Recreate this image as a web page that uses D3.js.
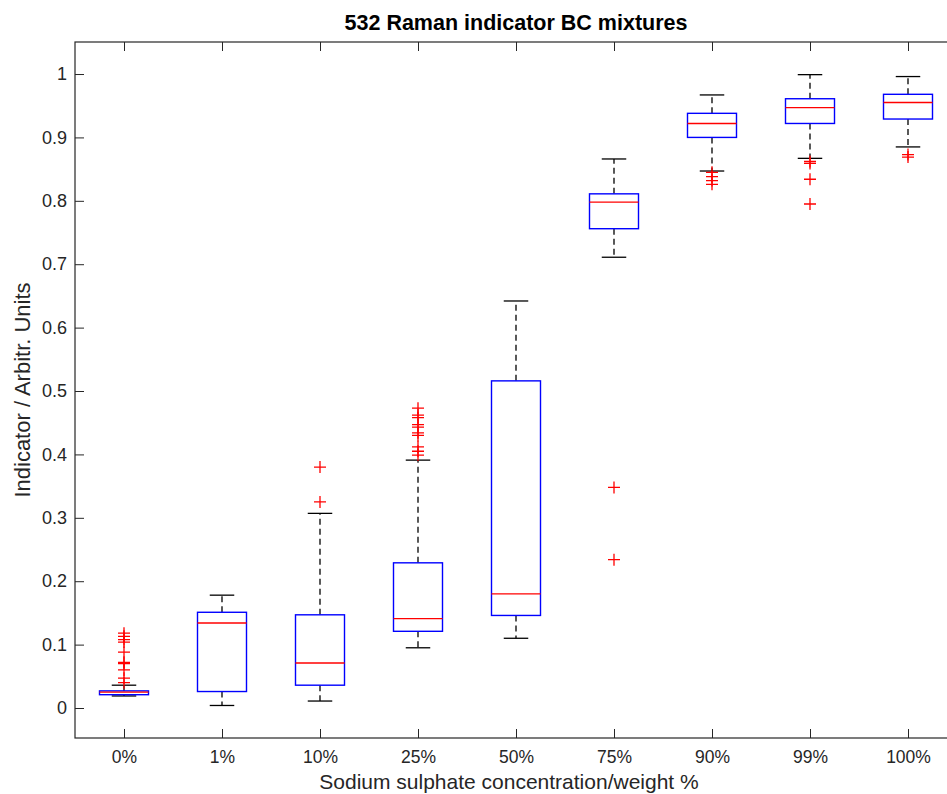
<!DOCTYPE html>
<html>
<head>
<meta charset="utf-8">
<script src="https://cdn.jsdelivr.net/npm/d3@7"></script>
<style>
  body { margin: 0; background: #fff; }
  svg { display: block; }
</style>
</head>
<body>
<div id="chart"></div>
<script>
// Box-plot summary per mixture (indicator, arbitrary units)
const categories   = ["0%", "1%", "10%", "25%", "50%", "75%", "90%", "99%", "100%"];
const whiskerLow   = [0.019, 0.004, 0.011, 0.095, 0.110, 0.711, 0.847, 0.867, 0.885];
const quartile1    = [0.021, 0.026, 0.036, 0.121, 0.146, 0.756, 0.900, 0.922, 0.929];
const medians      = [0.025, 0.134, 0.071, 0.141, 0.180, 0.798, 0.922, 0.947, 0.955];
const quartile3    = [0.027, 0.151, 0.147, 0.229, 0.516, 0.811, 0.938, 0.961, 0.968];
const whiskerHigh  = [0.036, 0.178, 0.307, 0.391, 0.642, 0.866, 0.967, 0.999, 0.996];
const outliers = [
  [0.118, 0.113, 0.108, 0.104, 0.088, 0.072, 0.070, 0.060, 0.047, 0.040],
  [],
  [0.380, 0.325],
  [0.473, 0.462, 0.458, 0.447, 0.443, 0.434, 0.430, 0.412, 0.405, 0.399],
  [],
  [0.348, 0.234],
  [0.845, 0.838, 0.832, 0.826],
  [0.862, 0.859, 0.834, 0.795],
  [0.873, 0.869]
];
const yTicks = [0, 0.1, 0.2, 0.3, 0.4, 0.5, 0.6, 0.7, 0.8, 0.9, 1];

const W = 947, H = 794;
const plot = { left: 75, right: 957, top: 42, bottom: 738 };

const svg = d3.select("#chart").append("svg")
  .attr("width", W).attr("height", H)
  .style("font-family", "'Liberation Sans', Arial, Helvetica, sans-serif");

const x = d3.scaleLinear().domain([0.5, categories.length + 0.5]).range([plot.left, plot.right]);
const y = d3.scaleLinear().domain([-0.0473, 1.0505]).range([plot.bottom, plot.top]);
const pos = i => x(i + 1);

const axisColor = "#262626";
const tickLen = 9;

// Axes box with inward ticks on all four sides
const xIdx = d3.range(1, categories.length + 1);
svg.append("g").attr("transform", `translate(0,${plot.bottom})`)
  .call(d3.axisBottom(x).tickValues(xIdx).tickSizeInner(-tickLen).tickSizeOuter(0)
    .tickPadding(13).tickFormat(d => categories[d - 1]))
  .call(g => g.select(".domain").remove())
  .call(g => g.selectAll("line").attr("stroke", axisColor))
  .call(g => g.selectAll("text").attr("fill", axisColor).style("font-size", "17.5px"));

svg.append("g").attr("transform", `translate(0,${plot.top})`)
  .call(d3.axisTop(x).tickValues(xIdx).tickSizeInner(-tickLen).tickSizeOuter(0).tickFormat(""))
  .call(g => g.select(".domain").remove())
  .call(g => g.selectAll("line").attr("stroke", axisColor));

svg.append("g").attr("transform", `translate(${plot.left},0)`)
  .call(d3.axisLeft(y).tickValues(yTicks).tickSizeInner(-tickLen).tickSizeOuter(0)
    .tickPadding(8).tickFormat(d => d3.format("~g")(d)))
  .call(g => g.select(".domain").remove())
  .call(g => g.selectAll("line").attr("stroke", axisColor))
  .call(g => g.selectAll("text").attr("fill", axisColor).style("font-size", "18px"));

svg.append("g").attr("transform", `translate(${plot.right},0)`)
  .call(d3.axisRight(y).tickValues(yTicks).tickSizeInner(-tickLen).tickSizeOuter(0).tickFormat(""))
  .call(g => g.select(".domain").remove())
  .call(g => g.selectAll("line").attr("stroke", axisColor));

svg.append("rect")
  .attr("x", plot.left).attr("y", plot.top)
  .attr("width", plot.right - plot.left).attr("height", plot.bottom - plot.top)
  .attr("fill", "none").attr("stroke", axisColor).attr("stroke-width", 1.2);

// Boxes
const boxHalf = (x(1.25) - x(1));
const capHalf = (x(1.125) - x(1));
const g = svg.append("g");

categories.forEach((c, i) => {
  const cx = pos(i);
  // dashed whiskers
  g.append("line").attr("x1", cx).attr("x2", cx)
    .attr("y1", y(quartile3[i])).attr("y2", y(whiskerHigh[i]))
    .attr("stroke", "#000").attr("stroke-width", 1.3).attr("stroke-dasharray", "6,4");
  g.append("line").attr("x1", cx).attr("x2", cx)
    .attr("y1", y(quartile1[i])).attr("y2", y(whiskerLow[i]))
    .attr("stroke", "#000").attr("stroke-width", 1.3).attr("stroke-dasharray", "6,4");
  // caps
  [whiskerHigh[i], whiskerLow[i]].forEach(v => {
    g.append("line").attr("x1", cx - capHalf).attr("x2", cx + capHalf)
      .attr("y1", y(v)).attr("y2", y(v))
      .attr("stroke", "#000").attr("stroke-width", 1.3);
  });
  // box
  g.append("rect")
    .attr("x", cx - boxHalf).attr("width", 2 * boxHalf)
    .attr("y", y(quartile3[i])).attr("height", y(quartile1[i]) - y(quartile3[i]))
    .attr("fill", "#fff").attr("stroke", "#0000ff").attr("stroke-width", 1.4);
  // median
  g.append("line").attr("x1", cx - boxHalf).attr("x2", cx + boxHalf)
    .attr("y1", y(medians[i])).attr("y2", y(medians[i]))
    .attr("stroke", "#ff0000").attr("stroke-width", 1.4);
  // outliers
  const m = 6;
  outliers[i].forEach(v => {
    g.append("path")
      .attr("d", `M${cx - m},${y(v)}H${cx + m}M${cx},${y(v) - m}V${y(v) + m}`)
      .attr("stroke", "#ff0000").attr("stroke-width", 1.3).attr("fill", "none");
  });
});

// Titles
svg.append("text")
  .attr("x", (plot.left + plot.right) / 2).attr("y", 30)
  .attr("text-anchor", "middle").style("font-size", "21.5px").style("font-weight", "bold")
  .attr("fill", "#000").text("532 Raman indicator BC mixtures");

svg.append("text")
  .attr("x", (plot.left + plot.right) / 2 - 7).attr("y", 789)
  .attr("text-anchor", "middle").style("font-size", "21px")
  .attr("fill", axisColor).text("Sodium sulphate concentration/weight %");

svg.append("text")
  .attr("transform", `translate(30,${(plot.top + plot.bottom) / 2}) rotate(-90)`)
  .attr("text-anchor", "middle").style("font-size", "22px")
  .attr("fill", axisColor).text("Indicator / Arbitr. Units");
</script>
</body>
</html>
